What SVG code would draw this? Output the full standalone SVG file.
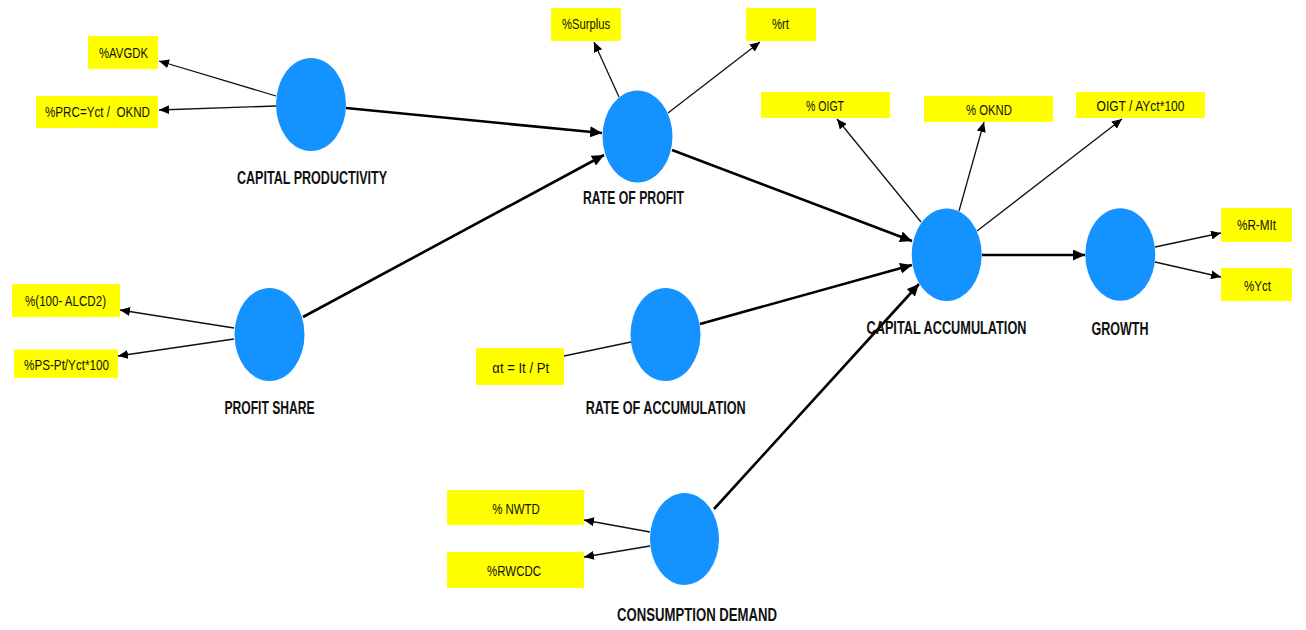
<svg xmlns="http://www.w3.org/2000/svg" width="1306" height="630" viewBox="0 0 1306 630">
<style>
.bg{fill:#ffffff}
.lv{fill:#1492ff}
.ind{fill:#ffff00}
.it{font-family:"Liberation Sans",Arial,sans-serif;font-size:15.5px;fill:#111;text-anchor:middle}
.lb{font-family:"Liberation Sans",Arial,sans-serif;font-size:18px;font-weight:bold;fill:#111;text-anchor:middle}
.thin{stroke:#111;stroke-width:1.3;fill:none}
.thick{stroke:#000;stroke-width:2.6;fill:none}
</style>
<defs>
<marker id="ah" markerUnits="userSpaceOnUse" markerWidth="11" markerHeight="9" refX="10" refY="4.5" orient="auto"><path d="M0,0 L10,4.5 L0,9 z" fill="#000"/></marker>
<marker id="ahk" markerUnits="userSpaceOnUse" markerWidth="13" markerHeight="11" refX="12" refY="5.5" orient="auto"><path d="M0,0 L12,5.5 L0,11 z" fill="#000"/></marker>
</defs>
<rect class="bg" x="0" y="0" width="1306" height="630"/>
<g id="connectors">
<line class="thin" x1="276" y1="96" x2="159" y2="61" marker-end="url(#ah)"/>
<line class="thin" x1="276" y1="106" x2="159" y2="110" marker-end="url(#ah)"/>
<line class="thin" x1="619" y1="97" x2="594" y2="42" marker-end="url(#ah)"/>
<line class="thin" x1="668" y1="113" x2="760" y2="42" marker-end="url(#ah)"/>
<line class="thin" x1="921" y1="222" x2="837" y2="119" marker-end="url(#ah)"/>
<line class="thin" x1="959" y1="211" x2="984" y2="122" marker-end="url(#ah)"/>
<line class="thin" x1="977" y1="231" x2="1122" y2="119" marker-end="url(#ah)"/>
<line class="thin" x1="1155" y1="247" x2="1221" y2="233" marker-end="url(#ah)"/>
<line class="thin" x1="1155" y1="262" x2="1221" y2="277" marker-end="url(#ah)"/>
<line class="thin" x1="234" y1="328" x2="120" y2="310" marker-end="url(#ah)"/>
<line class="thin" x1="234" y1="339" x2="118" y2="356" marker-end="url(#ah)"/>
<line class="thin" x1="650" y1="532" x2="584" y2="520" marker-end="url(#ah)"/>
<line class="thin" x1="650" y1="546" x2="584" y2="557" marker-end="url(#ah)"/>
<line class="thin" x1="564" y1="356" x2="631" y2="342"/>
<line class="thick" x1="346" y1="108" x2="602" y2="133" marker-end="url(#ahk)"/>
<line class="thick" x1="303" y1="317" x2="604" y2="155" marker-end="url(#ahk)"/>
<line class="thick" x1="672" y1="150" x2="912" y2="241" marker-end="url(#ahk)"/>
<line class="thick" x1="700" y1="324" x2="912" y2="265" marker-end="url(#ahk)"/>
<line class="thick" x1="714" y1="509" x2="919" y2="284" marker-end="url(#ahk)"/>
<line class="thick" x1="982" y1="255" x2="1085" y2="255" marker-end="url(#ahk)"/>
</g>
<g id="capital-productivity">
<ellipse class="lv" cx="311" cy="104.5" rx="35" ry="46.5"/>
<text class="lb" x="312" y="184" textLength="150" lengthAdjust="spacingAndGlyphs">CAPITAL PRODUCTIVITY</text>
</g>
<g id="rate-of-profit">
<ellipse class="lv" cx="637.5" cy="136.5" rx="35" ry="46"/>
<text class="lb" x="633.5" y="204" textLength="101" lengthAdjust="spacingAndGlyphs">RATE OF PROFIT</text>
</g>
<g id="profit-share">
<ellipse class="lv" cx="269.5" cy="334.5" rx="35" ry="46.5"/>
<text class="lb" x="269.5" y="414" textLength="90" lengthAdjust="spacingAndGlyphs">PROFIT SHARE</text>
</g>
<g id="rate-of-accumulation">
<ellipse class="lv" cx="665.5" cy="334.5" rx="35" ry="46.5"/>
<text class="lb" x="665.7" y="413.5" textLength="160" lengthAdjust="spacingAndGlyphs">RATE OF ACCUMULATION</text>
</g>
<g id="capital-accumulation">
<ellipse class="lv" cx="946.7" cy="254.7" rx="35" ry="46.3"/>
<text class="lb" x="946.5" y="334" textLength="160" lengthAdjust="spacingAndGlyphs">CAPITAL ACCUMULATION</text>
</g>
<g id="growth">
<ellipse class="lv" cx="1120.3" cy="254.5" rx="35" ry="46.3"/>
<text class="lb" x="1120" y="335" textLength="57" lengthAdjust="spacingAndGlyphs">GROWTH</text>
</g>
<g id="consumption-demand">
<ellipse class="lv" cx="684.5" cy="539" rx="34.5" ry="46"/>
<text class="lb" x="697" y="621" textLength="160" lengthAdjust="spacingAndGlyphs">CONSUMPTION DEMAND</text>
</g>
<g id="ind-avgdk">
<rect class="ind" x="88" y="36" width="70" height="33"/>
<text class="it" x="123.5" y="58" textLength="49" lengthAdjust="spacingAndGlyphs">%AVGDK</text>
</g>
<g id="ind-prc">
<rect class="ind" x="36" y="96" width="122" height="32"/>
<text class="it" x="97.5" y="117" textLength="105" lengthAdjust="spacingAndGlyphs" style="white-space:pre">%PRC=Yct /  OKND</text>
</g>
<g id="ind-surplus">
<rect class="ind" x="551" y="8" width="70" height="33"/>
<text class="it" x="586" y="29" textLength="48" lengthAdjust="spacingAndGlyphs">%Surplus</text>
</g>
<g id="ind-rt">
<rect class="ind" x="746" y="8" width="70" height="33"/>
<text class="it" x="780.5" y="29" textLength="17" lengthAdjust="spacingAndGlyphs">%rt</text>
</g>
<g id="ind-oigt">
<rect class="ind" x="761" y="92" width="129" height="26"/>
<text class="it" x="825" y="111" textLength="38" lengthAdjust="spacingAndGlyphs">% OIGT</text>
</g>
<g id="ind-oknd">
<rect class="ind" x="924" y="96" width="129" height="26"/>
<text class="it" x="989" y="115" textLength="46" lengthAdjust="spacingAndGlyphs">% OKND</text>
</g>
<g id="ind-oigt-ayct">
<rect class="ind" x="1076" y="92" width="129" height="26"/>
<text class="it" x="1140.5" y="111" textLength="88" lengthAdjust="spacingAndGlyphs">OIGT / AYct*100</text>
</g>
<g id="ind-rmit">
<rect class="ind" x="1221" y="208" width="71" height="34"/>
<text class="it" x="1256.5" y="230" textLength="39" lengthAdjust="spacingAndGlyphs">%R-MIt</text>
</g>
<g id="ind-yct">
<rect class="ind" x="1221" y="268" width="71" height="33"/>
<text class="it" x="1257.5" y="291" textLength="27" lengthAdjust="spacingAndGlyphs">%Yct</text>
</g>
<g id="ind-alcd2">
<rect class="ind" x="12" y="284" width="108" height="33"/>
<text class="it" x="65.5" y="306" textLength="81" lengthAdjust="spacingAndGlyphs">%(100- ALCD2)</text>
</g>
<g id="ind-ps">
<rect class="ind" x="14" y="349.5" width="104" height="28.5"/>
<text class="it" x="66.5" y="370" textLength="85" lengthAdjust="spacingAndGlyphs">%PS-Pt/Yct*100</text>
</g>
<g id="ind-alpha">
<rect class="ind" x="476" y="348" width="88" height="37"/>
<text class="it" x="520.7" y="372.5" textLength="56.7" lengthAdjust="spacingAndGlyphs">αt = It / Pt</text>
</g>
<g id="ind-nwtd">
<rect class="ind" x="447" y="490" width="137" height="35"/>
<text class="it" x="516" y="513.5" textLength="47.7" lengthAdjust="spacingAndGlyphs">% NWTD</text>
</g>
<g id="ind-rwcdc">
<rect class="ind" x="447" y="552" width="137" height="36"/>
<text class="it" x="514" y="576" textLength="54" lengthAdjust="spacingAndGlyphs">%RWCDC</text>
</g>
</svg>
